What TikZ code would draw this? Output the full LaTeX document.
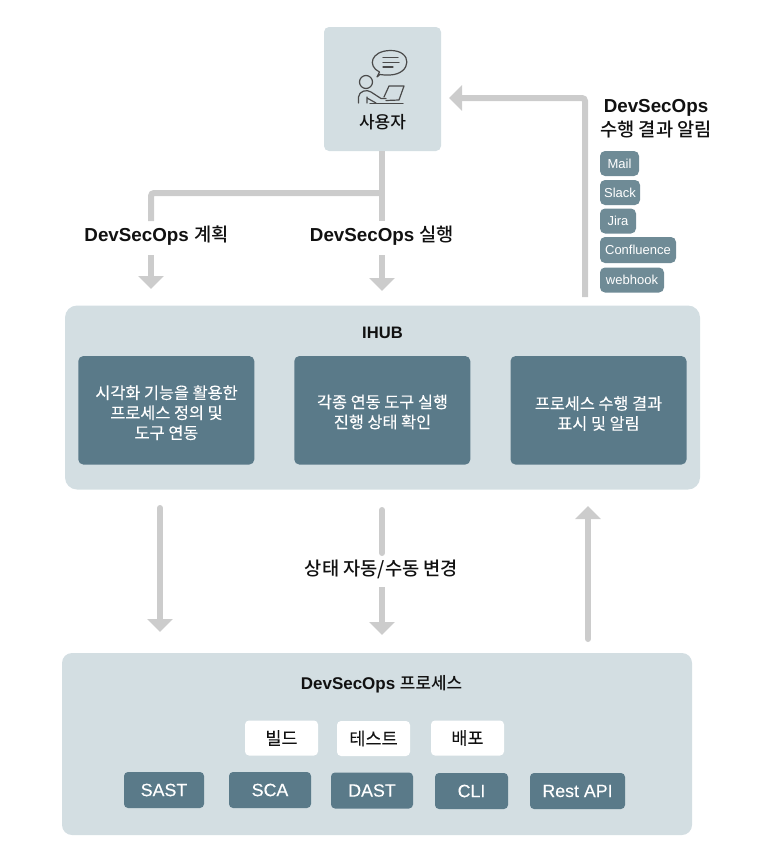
\documentclass[tikz,border=0pt]{standalone}
\usepackage{fontspec}
\usetikzlibrary{arrows.meta}
\setmainfont{Liberation Sans}
\newfontfamily\krreg[FakeBold=0.12]{Noto Sans CJK KR}
\newfontfamily\krmed{Noto Sans CJK KR Medium}
\newfontfamily\lamed[Scale=1.005]{Liberation Sans}
\newfontfamily\lareg[FakeBold=0.15]{Liberation Sans}
\definecolor{panel}{HTML}{D3DEE2}
\definecolor{darkbox}{HTML}{5A7A89}
\definecolor{tagbox}{HTML}{6F8B96}
\definecolor{conn}{HTML}{CCCCCC}
\definecolor{ink}{HTML}{111111}
\definecolor{iconline}{HTML}{4A4A4A}
\tikzset{
  box/.style={rounded corners=#1,inner sep=0pt,outer sep=0pt,anchor=center,align=center},
  panelbox/.style={box=#1,fill=panel,text=ink},
  innerbox/.style={box=5pt,fill=darkbox},
  innertext/.style={inner sep=0pt,align=center,text=white,font=\fontsize{16.3}{20}\selectfont\krreg},
  toolbox/.style={box=4pt,fill=darkbox,text=white,font=\fontsize{17.8}{20}\selectfont\lareg},
  whitebox/.style={box=4pt,fill=white,text=ink,font=\fontsize{17.5}{20}\selectfont\krreg},
  tagnode/.style={box=5pt,fill=tagbox,text=white,font=\fontsize{13}{15}\selectfont},
  lab/.style={inner sep=0pt,outer sep=0pt,text=ink,font=\fontsize{18.7}{24}\selectfont,align=center},
  conline/.style={draw=conn,line width=6pt,line cap=round},
  conarrow/.style={conline,-{Triangle[width=25pt,length=13pt]}},
  iconstroke/.style={draw=iconline,line width=1.2pt,line cap=round,line join=round}
}
\newcommand{\KM}[1]{{\krmed #1}}
\newcommand{\LM}[1]{{\lamed\bfseries #1}}
\begin{document}
\begin{tikzpicture}[x=1pt,y=-1pt]
\useasboundingbox (0,0) rectangle (765,862);
% main panels
\node[panelbox=5pt,minimum width=117pt,minimum height=124pt] (user) at (382.5,89) {};
\node[panelbox=12pt,minimum width=635pt,minimum height=184pt] (ihub) at (382.5,397.5) {};
\node[panelbox=10pt,minimum width=630pt,minimum height=182pt] (proc) at (377,744) {};
% user icon and label
\coordinate (bubtail) at (377,77);
\draw[iconstroke] (379.5,72) .. controls (367,66) and (371,51) .. (390,50.5)
  .. controls (413,50) and (412,74) .. (390,75) .. controls (386,75.2) and (383,75) .. (380,74.5)
  -- (bubtail) -- cycle;
\draw[iconstroke] (383,57.5) -- (398,57.5) (383,62.5) -- (399,62.5) (383,67) -- (393,67);
\draw[iconstroke] (366,82) circle (6.5);
\draw[iconstroke] (358.5,103) -- (358.5,97) .. controls (359,91) and (367,89) .. (371,92) -- (381,98.5) -- (386,98.5) (367,97) -- (367,103) (367,98) -- (376,103);
\draw[iconstroke] (384,97) -- (389,86) -- (404,86) -- (399,100) -- (386,100.5);
\draw[iconstroke] (370,103.2) -- (403,103.2);
\node[lab,font=\fontsize{17}{20}\selectfont] (userlab) at (382.5,122.5) {\KM{사용자}};
% top connectors
\coordinate (branch) at (382,193);
\coordinate (planA) at (151,221);
\coordinate (planB) at (151,255);
\coordinate (planEnd) at (151,289);
\coordinate (runA) at (382,221);
\coordinate (runB) at (382,255);
\coordinate (runEnd) at (382,291);
\draw[conline,line cap=butt] (user.south -| branch) -- (runA);
\draw[conline,line cap=butt,rounded corners=3pt] (branch) -| (planA);
\draw[conarrow,line cap=butt] (planB) -- (planEnd);
\draw[conarrow,line cap=butt] (runB) -- (runEnd);
\node[lab] (planlab) at (156.5,236) {\LM{DevSecOps} \KM{계획}};
\node[lab] (runlab) at (382,236) {\LM{DevSecOps} \KM{실행}};
% notify connector
\coordinate (notA) at (585,297);
\coordinate (notEnd) at (449,98);
\draw[conarrow,line cap=butt,rounded corners=3pt] (notA) |- (notEnd);
\node[lab,font=\fontsize{18.7}{24.5}\selectfont] (notlab) at (656,118.5) {\LM{DevSecOps}\\\KM{수행 결과 알림}};
% tags
\node[tagnode,minimum width=39pt,minimum height=25pt] (mail) at (619.5,163.5) {Mail};
\node[tagnode,minimum width=40pt,minimum height=25pt] (slack) at (620,192.5) {Slack};
\node[tagnode,minimum width=36pt,minimum height=25pt] (jira) at (618,221) {Jira};
\node[tagnode,minimum width=76pt,minimum height=26pt] (conf) at (638,250) {Confluence};
\node[tagnode,minimum width=64pt,minimum height=25pt] (web) at (632,280) {webhook};
% IHUB
\node[lab,font=\fontsize{16.5}{20}\selectfont] (ihublab) at (382.5,333) {\LM{IHUB}};
\node[innerbox,minimum width=176pt,minimum height=108.5pt] (i1) at (166.3,410.3) {};
\node[innerbox,minimum width=176pt,minimum height=108.5pt] (i2) at (382.3,410.3) {};
\node[innerbox,minimum width=176pt,minimum height=108.5pt] (i3) at (598.5,410.3) {};
\node[innertext] (i1t) at (166.5,412.7) {시각화 기능을 활용한\\프로세스 정의 및\\도구 연동};
\node[innertext] (i2t) at (382.5,412) {각종 연동 도구 실행\\진행 상태 확인};
\node[innertext] (i3t) at (598.5,413.5) {프로세스 수행 결과\\표시 및 알림};
% middle connectors
\coordinate (d1a) at (160,508);
\coordinate (d1b) at (160,632);
\coordinate (d2a) at (382,510);
\coordinate (d2b) at (382,553);
\coordinate (d2c) at (382,587);
\coordinate (d2d) at (382,635);
\coordinate (u1a) at (588,639);
\coordinate (u1b) at (588,506);
\draw[conarrow] (d1a) -- (d1b);
\draw[conline] (d2a) -- (d2b);
\draw[conarrow,line cap=butt] (d2c) -- (d2d);
\draw[conarrow] (u1a) -- (u1b);
\node[lab] (statelab) at (381.5,569) {\KM{상태 자동/수동 변경}};
% process panel
\node[lab,font=\fontsize{16.9}{20}\selectfont] (proclab) at (381.5,684) {\LM{DevSecOps} \KM{프로세스}};
\node[whitebox,minimum width=73pt,minimum height=35pt] (w1) at (281.5,738) {빌드};
\node[whitebox,minimum width=73pt,minimum height=35pt] (w2) at (373.5,738.5) {테스트};
\node[whitebox,minimum width=73pt,minimum height=35pt] (w3) at (467.5,738) {배포};
\node[toolbox,minimum width=80pt,minimum height=36pt] (t1) at (164,790) {SAST};
\node[toolbox,minimum width=82pt,minimum height=36pt] (t2) at (270,790) {SCA};
\node[toolbox,minimum width=82pt,minimum height=36pt] (t3) at (372,790.5) {DAST};
\node[toolbox,minimum width=73pt,minimum height=36pt] (t4) at (471.5,791) {CLI};
\node[toolbox,minimum width=95pt,minimum height=36pt] (t5) at (577.5,791) {Rest API};
\end{tikzpicture}
\end{document}
